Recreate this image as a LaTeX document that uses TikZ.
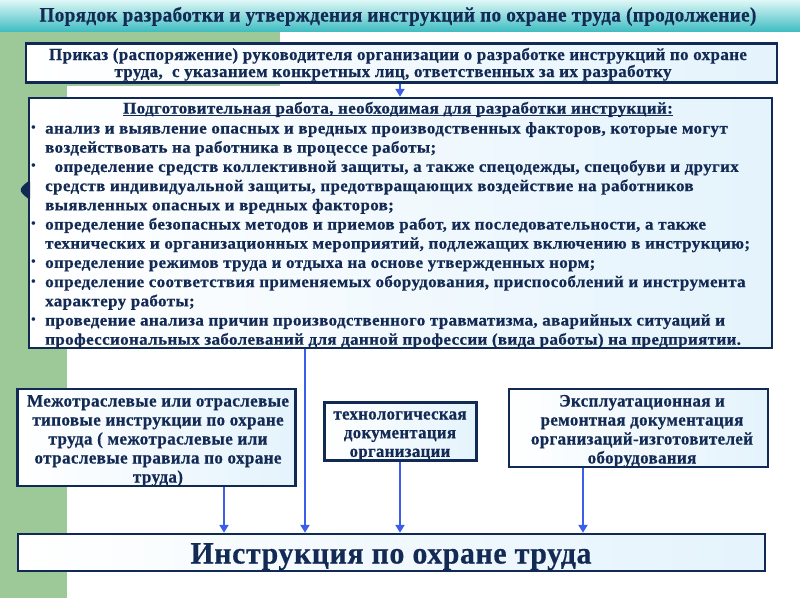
\documentclass[tikz,border=0pt]{standalone}
\usepackage{fontspec}
\setmainfont{Liberation Serif}
\newfontfamily\spf[LetterSpace=2, BoldFeatures={FakeBold=0.5}]{Liberation Serif}
\usetikzlibrary{arrows.meta}
\definecolor{navy}{RGB}{16,42,84}
\definecolor{txtc}{RGB}{18,42,84}
\definecolor{arrowblue}{RGB}{60,95,235}
\definecolor{greenbg}{RGB}{157,200,152}
\definecolor{boxblue}{RGB}{228,243,252}
\definecolor{tealA}{RGB}{222,247,247}
\definecolor{tealB}{RGB}{66,190,195}
\newlength\fitw
\newcommand\mkscale[3]{\settowidth\fitw{#3}\pgfmathsetmacro#1{#2/\fitw}}
\newcommand\myfT{\spf\bfseries\fontsize{20.5}{20.5}\selectfont}
\newcommand\myfA{\spf\bfseries\fontsize{17}{17}\selectfont}
\newcommand\myfB{\spf\bfseries\fontsize{16.3}{16.3}\selectfont}
\newcommand\myfC{\spf\bfseries\fontsize{17.5}{17.5}\selectfont}
\newcommand\myfE{\spf\bfseries\fontsize{31}{31}\selectfont}
\begin{document}
\mkscale\sT{717}{\myfT Порядок разработки и утверждения инструкций по охране труда (продолжение)}%
\mkscale\sA{698}{\myfA Приказ (распоряжение) руководителя организации о разработке инструкций по охране}%
\mkscale\sB{705}{\myfB технических и организационных мероприятий, подлежащих включению в инструкцию;}%
\mkscale\sC{262}{\myfC Межотраслевые или отраслевые}%
\mkscale\sF{133}{\myfC технологическая}%
\mkscale\sD{222}{\myfC организаций-изготовителей}%
\mkscale\sE{401}{\myfE Инструкция по охране труда}%
\begin{tikzpicture}[x=1pt,y=-1pt,
  box/.style={draw=navy, line width=2.4pt, left color=white, right color=boxblue, rectangle, inner sep=0pt},
  tx/.style={text=txtc, inner sep=0pt, anchor=base},
  txl/.style={text=txtc, inner sep=0pt, anchor=base west},
  bul/.style={text=txtc, inner sep=0pt, anchor=base, font=\fontsize{15}{15}\selectfont},
  arr/.style={draw=arrowblue, line width=2.5pt, -{Triangle[width=9pt,length=8pt]}}]
\useasboundingbox (0,0) rectangle (800,600);
\fill[white] (0,0) rectangle (800,600);
\fill[greenbg] (0,31) rectangle (280,86);
\fill[greenbg] (0,86) rectangle (67,598);
\shade[top color=tealA, bottom color=tealB] (0,0) rectangle (800,31);
\node[tx, font=\myfT] (title) at (398,21.5) {\scalebox{\sT}[1]{Порядок разработки и утверждения инструкций по охране труда (продолжение)}};
% boxes
\node[box, minimum width=751pt, minimum height=39pt] (b1) at (401.5,63) {};
\node[box, minimum width=743pt, minimum height=250pt] (b2) at (400.5,223) {};
\node[box, minimum width=278pt, minimum height=97pt] (b3) at (156.5,437.5) {};
\node[box, minimum width=152pt, minimum height=58pt] (b4) at (400.5,431.5) {};
\node[box, minimum width=259pt, minimum height=78pt] (b5) at (638.5,428) {};
\node[box, minimum width=747pt, minimum height=37pt] (main) at (391.5,552.5) {};
\fill[navy, rounded corners=1.5pt] (30,180) -- (23,185.5) -- (20,190) -- (23,194.5) -- (30,200) -- cycle;
% box 1 text
\node[tx, font=\myfA] (b1a) at (398,60) {\scalebox{\sA}[1]{Приказ (распоряжение) руководителя организации о разработке инструкций по охране}};
\node[tx, font=\myfA] (b1b) at (393,77) {\scalebox{\sA}[1]{труда,\ \ с указанием конкретных лиц, ответственных за их разработку}};
% box 2 text
\node[tx, font=\myfB] (hdr) at (398,113.5) {\scalebox{\sB}[1]{Подготовительная работа, необходимая для разработки инструкций:}};
\draw[txtc, line width=1.1pt] ([yshift=-2.2pt]hdr.base west) -- ([yshift=-2.2pt]hdr.base east);
\foreach \t [count=\i] in {
 {анализ и выявление опасных и вредных производственных факторов, которые могут},
 {воздействовать на работника в процессе работы;},
 {\hspace*{9pt}определение средств коллективной защиты, а также спецодежды, спецобуви и других},
 {средств индивидуальной защиты, предотвращающих воздействие на работников},
 {выявленных опасных и вредных факторов;},
 {определение безопасных методов и приемов работ, их последовательности, а также},
 {технических и организационных мероприятий, подлежащих включению в инструкцию;},
 {определение режимов труда и отдыха на основе утвержденных норм;},
 {определение соответствия применяемых оборудования, приспособлений и инструмента},
 {характеру работы;},
 {проведение анализа причин производственного травматизма, аварийных ситуаций и},
 {профессиональных заболеваний для данной профессии (вида работы) на предприятии.}}
 \node[txl, font=\myfB] (l\i) at (45,{133.5+19.2*(\i-1)}) {\scalebox{\sB}[1]{\t}};
\foreach \i in {1,3,6,8,9,11}
 \node[bul] (bu\i) at (33.5,{132.5+19.2*(\i-1)}) {\textbullet};
% box 3 text
\foreach \t [count=\i] in {{Межотраслевые или отраслевые},{типовые инструкции по охране},{труда ( межотраслевые или},{отраслевые правила по охране},{труда)}}
 \node[tx, font=\myfC] (c\i) at (158,{406.5+19*(\i-1)}) {\scalebox{\sC}[1]{\t}};
% box 4 text
\foreach \t [count=\i] in {{технологическая},{документация},{организации}}
 \node[tx, font=\myfC] (d\i) at (400,{419.5+18.7*(\i-1)}) {\scalebox{\sF}[1]{\t}};
% box 5 text
\foreach \t [count=\i] in {{Эксплуатационная и},{ремонтная документация},{организаций-изготовителей},{оборудования}}
 \node[tx, font=\myfC] (e\i) at (642,{406.5+19*(\i-1)}) {\scalebox{\sD}[1]{\t}};
% main text
\node[tx, font=\myfE] (maint) at (391,563.5) {\scalebox{\sE}[1]{Инструкция по охране труда}};
% connectors
\coordinate (xa) at (305,0);
\coordinate (xb) at (224,0);
\coordinate (xc) at (400,0);
\coordinate (xd) at (583,0);
\draw[arr] (b1.south -| xc) -- (b2.north -| xc);
\draw[arr] (b2.south -| xa) -- (main.north -| xa);
\draw[arr] (b3.south -| xb) -- (main.north -| xb);
\draw[arr] (b4.south -| xc) -- (main.north -| xc);
\draw[arr] (b5.south -| xd) -- (main.north -| xd);
\end{tikzpicture}
\end{document}
